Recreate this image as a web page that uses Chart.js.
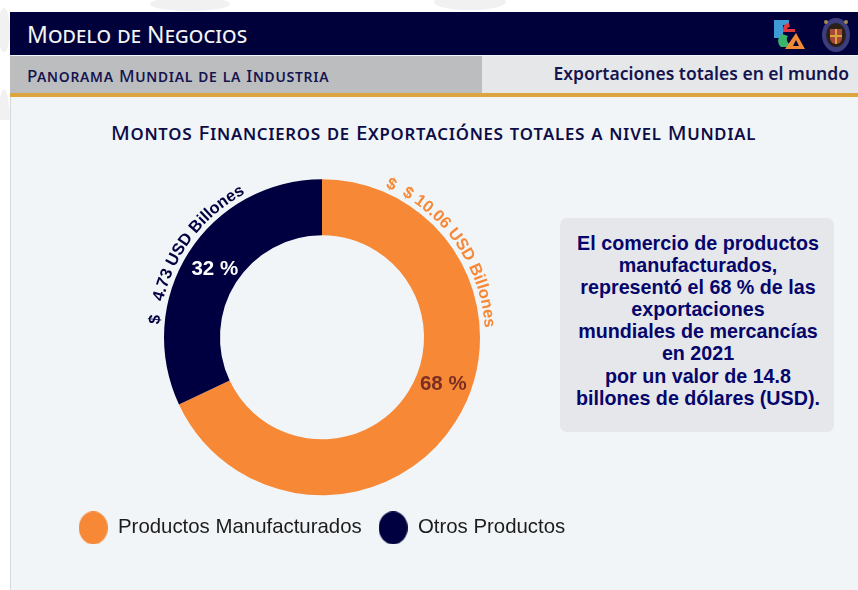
<!DOCTYPE html>
<html lang="es"><head><meta charset="utf-8">
<script src="https://cdn.jsdelivr.net/npm/chart.js@4"></script>
<style>
html,body{margin:0;padding:0;background:#fff}
body{position:relative;width:858px;height:590px;overflow:hidden;font-family:"Noto Sans",sans-serif}
.abs{position:absolute;white-space:nowrap}
#panel{left:10px;top:12px;width:848px;height:578px;background:#f2f5f7;border-left:1px solid #d6d8d9;box-sizing:border-box}
#head{left:10px;top:12px;width:848px;height:43px;background:#00003a}
#subA{left:10px;top:56px;width:472px;height:37px;background:#bcbdbf}
#subB{left:482px;top:56px;width:376px;height:37px;background:#e6e7e9}
#gold{left:10px;top:93px;width:848px;height:4px;background:#dca53e}
#t1{left:27px;top:19px;color:#f4f4f4;font-size:23px;line-height:30px;font-variant:small-caps;letter-spacing:.1px}
#t2{left:27px;top:64px;color:#14144f;font-size:17px;line-height:24px;font-variant:small-caps;font-weight:500;letter-spacing:.73px}
#t3{right:9px;top:60px;color:#14144f;font-size:17.5px;line-height:26px;font-weight:600}
#t4{left:111px;top:118px;color:#0c0c47;font-size:20.5px;line-height:28px;font-variant:small-caps;font-weight:500;letter-spacing:.73px}
#info{left:560px;top:218px;width:274px;height:214px;background:#e6e7ea;border-radius:7px}
#infoT{left:561px;top:232px;width:274px;text-align:center;color:#05056b;font:bold 19.7px/22.1px "Liberation Sans",Arial,sans-serif}
canvas{position:absolute;left:0;top:0}
</style></head>
<body>
<svg class="abs" style="left:0;top:0" width="858" height="120" aria-hidden="true">
<g fill="#f1f1f1"><ellipse cx="4" cy="30" rx="6" ry="22"/><ellipse cx="4" cy="125" rx="6" ry="36"/><ellipse cx="190" cy="4" rx="40" ry="7"/><ellipse cx="470" cy="2" rx="36" ry="8"/></g>
</svg>
<div class="abs" id="panel"></div>
<div class="abs" id="head"></div>
<div class="abs" id="subA"></div>
<div class="abs" id="subB"></div>
<div class="abs" id="gold"></div>
<div class="abs" id="t1">Modelo de Negocios</div>
<div class="abs" id="t2">Panorama Mundial de la Industria</div>
<div class="abs" id="t3">Exportaciones totales en el mundo</div>
<div class="abs" id="t4">Montos Financieros de Exportaciónes totales a nivel Mundial</div>
<svg class="abs" style="left:770px;top:17px" width="80" height="36" aria-hidden="true">
<rect x="4" y="3" width="9" height="18" fill="#3f9bd6"/><path d="M13 3h6v5h-6z" fill="#3f9bd6"/>
<path d="M19 6a6 6 0 0 0-6 6h4a3 3 0 0 1 3-2z" fill="#e0383e"/><path d="M13 12h12v3H13z" fill="#e0383e"/>
<path d="M12 17a8 8 0 0 0-1 13h7l2-3a5 5 0 0 1-2-8z" fill="#37b36b"/>
<path d="M26 16l9 16H15z" fill="#f08a35"/><path d="M26 23l3 6h-6z" fill="#00003a"/>
<ellipse cx="66" cy="18" rx="14" ry="17" fill="#3c3d7e"/><ellipse cx="66" cy="18" rx="10" ry="12" fill="#2a2018"/>
<path d="M60 12h12v9a6 6 0 0 1-12 0z" fill="#a8483a"/><path d="M66 12v15M60 19h12" stroke="#d8a53c" stroke-width="2"/>
<circle cx="56" cy="5" r="2" fill="#a08a50"/><circle cx="76" cy="5" r="2" fill="#a08a50"/>
</svg>
<div class="abs" id="info"></div>
<div class="abs" id="infoT">El comercio de productos<br>manufacturados,<br>representó el 68 % de las<br>exportaciones<br>mundiales de mercancías<br>en 2021<br>por un valor de 14.8<br>billones de dólares (USD).</div>
<canvas id="c" width="858" height="590"></canvas>
<script>
const categories = ["Productos Manufacturados", "Otros Productos"];
const amounts = [10.06, 4.73];
const percentLabels = ["68 %", "32 %"];
const arcLabels = ["$  $ 10.06 USD Billones", "$   4.73 USD Billones"];
const sliceColors = ["#f68836", "#000040"];
const percentColors = ["#7b2f22", "#ffffff"];

function legendMarker(color) {
  const m = document.createElement("canvas");
  m.width = 29; m.height = 33;
  const g = m.getContext("2d");
  g.fillStyle = color;
  g.beginPath(); g.ellipse(14.5, 16.5, 14.5, 16.5, 0, 0, 2 * Math.PI); g.fill();
  return m;
}

const labelsPlugin = {
  id: "sliceLabels",
  afterDatasetsDraw(chart) {
    const ctx = chart.ctx, arcs = chart.getDatasetMeta(0).data;
    const along = [0.4535, 0.5], inset = [0, 3], startAt = [0.0635, 0.7625];
    arcs.forEach((arc, i) => {
      const mid = arc.innerRadius / 2 + arc.outerRadius / 2 - inset[i];
      const a = arc.startAngle + (arc.endAngle - arc.startAngle) * along[i];
      ctx.save();
      ctx.font = 'bold 20.5px "Liberation Sans", Arial, sans-serif';
      ctx.fillStyle = percentColors[i];
      ctx.textAlign = "center"; ctx.textBaseline = "middle";
      ctx.fillText(percentLabels[i], arc.x + Math.cos(a) * mid, arc.y + Math.sin(a) * mid);
      ctx.font = 'bold 16.5px "Liberation Sans", Arial, sans-serif';
      ctx.fillStyle = sliceColors[i];
      ctx.textBaseline = "alphabetic";
      const r = arc.outerRadius + 5;
      let ang = -Math.PI / 2 + 2 * Math.PI * startAt[i];
      for (const ch of arcLabels[i]) {
        const w = ctx.measureText(ch).width;
        ctx.save();
        ctx.translate(arc.x + Math.cos(ang + w / 2 / r) * r, arc.y + Math.sin(ang + w / 2 / r) * r);
        ctx.rotate(ang + w / 2 / r + Math.PI / 2);
        ctx.fillText(ch, 0, 0);
        ctx.restore();
        ang += w / r;
      }
      ctx.restore();
    });
  }
};

new Chart(document.getElementById("c"), {
  type: "doughnut",
  data: { labels: categories, datasets: [{ data: amounts, backgroundColor: sliceColors, borderWidth: 0, radius: 158 }] },
  options: {
    responsive: false, animation: false, cutout: "64.56%",
    layout: { padding: { left: 0, right: 214, top: 174, bottom: 42 } },
    plugins: {
      tooltip: { enabled: false },
      legend: { position: "bottom", labels: {
        usePointStyle: true, pointStyleWidth: 29, padding: 17,
        color: "#1c1c1c", font: { family: '"Liberation Sans", Arial, sans-serif', size: 20.4 },
        generateLabels(chart) {
          return Chart.overrides.doughnut.plugins.legend.labels.generateLabels(chart)
            .map((item, i) => ({ ...item, pointStyle: legendMarker(sliceColors[i]) }));
        }
      } }
    }
  },
  plugins: [labelsPlugin]
});
</script>
</body></html>
